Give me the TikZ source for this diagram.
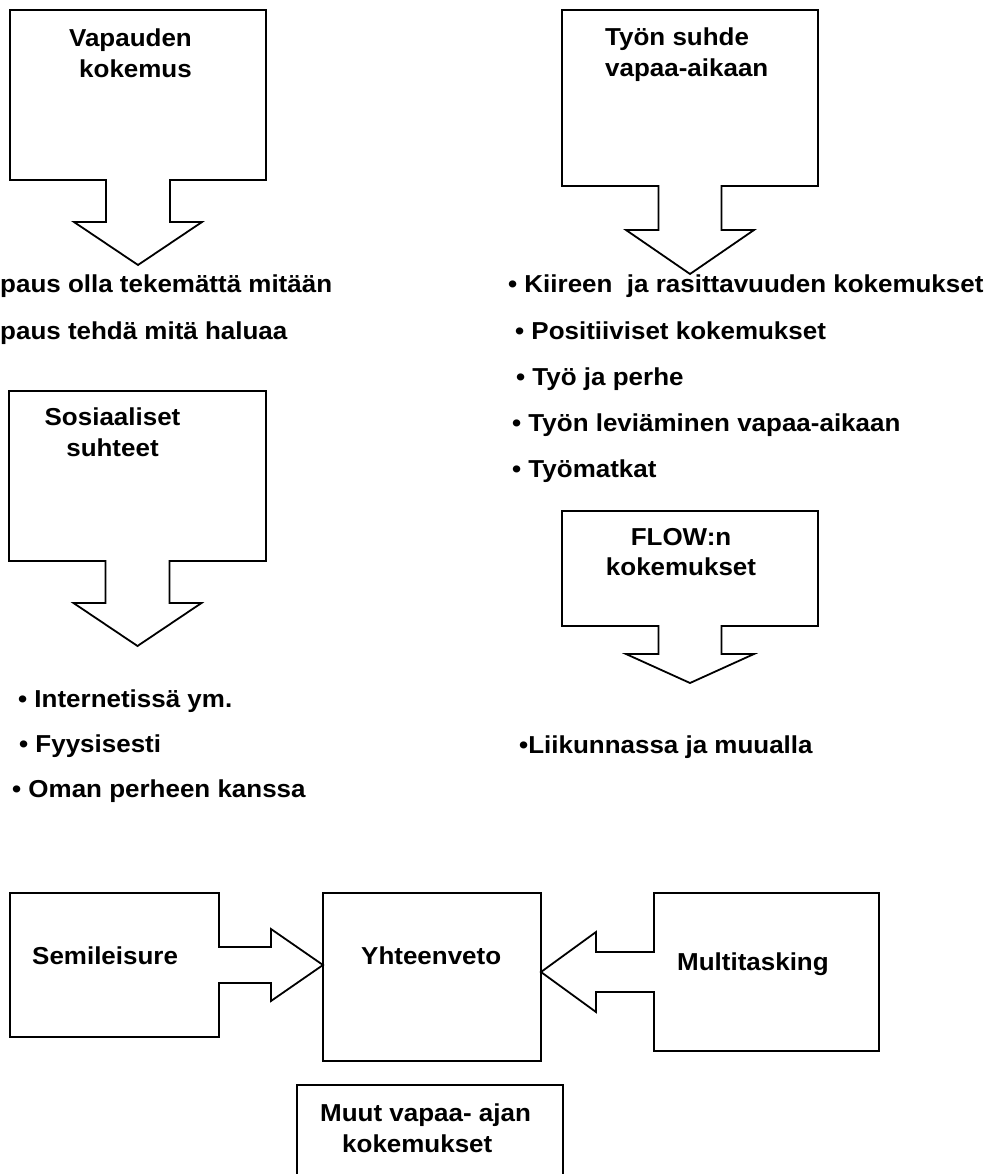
\documentclass[tikz,border=0pt]{standalone}
\usepackage{fontspec}
\setmainfont{Liberation Sans}[FakeStretch=1.06]
\usetikzlibrary{positioning}

\begin{document}
\begin{tikzpicture}[x=1pt,y=-1pt,
  font=\fontsize{24.5}{30.5}\selectfont\bfseries,
  frame/.style={line width=1.8pt,line join=miter},
  box/.style={inner sep=0pt,outer sep=0pt},
  title/.style={inner sep=0pt},
  item/.style={inner sep=0pt,anchor=base west}]

\clip (0,0) rectangle (992,1174);

% boxes
\node[box,minimum width=256pt,minimum height=170pt] (vapaus) at (138,95) {};
\node[box,minimum width=256pt,minimum height=176pt] (tyo) at (690,98) {};
\node[box,minimum width=257pt,minimum height=170pt] (sosiaal) at (137.5,476) {};
\node[box,minimum width=256pt,minimum height=115pt] (flow) at (690,568.5) {};
\node[box,minimum width=209pt,minimum height=144pt] (semi) at (114.5,965) {};
\node[box,frame,draw,minimum width=218pt,minimum height=168pt] (yht) at (432,977) {};
\node[box,minimum width=225pt,minimum height=158pt] (multi) at (766.5,972) {};
\node[box,frame,draw,minimum width=266pt,minimum height=130pt] (muut) at (430,1150) {};

% box titles
\node[title,align=right,anchor=north east] at (192,29) {Vapauden\\kokemus};
\node[title,align=left,anchor=north west] at (605,28) {Työn suhde\\vapaa-aikaan};
\node[title,align=center,anchor=north] at (112.5,408) {Sosiaaliset\\suhteet};
\node[title,align=center,anchor=north] at (681,528) {FLOW:n\\kokemukset};
\node[title,align=left,anchor=north west] at (320,1104) {Muut vapaa- ajan\\\hspace*{22pt}kokemukset};
\node[item] at (32,964) {Semileisure};
\node[item] at (361,964) {Yhteenveto};
\node[item] at (677,970) {Multitasking};

% lists
\node[item] at (0,292) {paus olla tekemättä mitään};
\node[item] at (0,339) {paus tehdä mitä haluaa};
\node[item] at (508,292) {• Kiireen\ \ ja rasittavuuden kokemukset};
\node[item] at (515,339) {• Positiiviset kokemukset};
\node[item] at (516,385) {• Työ ja perhe};
\node[item] at (512,431) {• Työn leviäminen vapaa-aikaan};
\node[item] at (512,477) {• Työmatkat};
\node[item] at (519,753) {•Liikunnassa ja muualla};
\node[item] at (18,707) {• Internetissä ym.};
\node[item] at (19,752) {• Fyysisesti};
\node[item] at (12,797) {• Oman perheen kanssa};

% down arrows
\draw[frame] (vapaus.south west) -- (vapaus.north west) -- (vapaus.north east) -- (vapaus.south east)
  -- ([xshift=32pt]vapaus.south) -- ++(0,42) -- ++(32,0) -- ++(-64,43) -- ++(-64,-43) -- ++(32,0) -- ++(0,-42) -- cycle;
\draw[frame] (tyo.south west) -- (tyo.north west) -- (tyo.north east) -- (tyo.south east)
  -- ([xshift=31.5pt]tyo.south) -- ++(0,44) -- ++(32.5,0) -- ++(-64,44) -- ++(-64,-44) -- ++(32.5,0) -- ++(0,-44) -- cycle;
\draw[frame] (sosiaal.south west) -- (sosiaal.north west) -- (sosiaal.north east) -- (sosiaal.south east)
  -- ([xshift=32pt]sosiaal.south) -- ++(0,42) -- ++(32,0) -- ++(-64,43) -- ++(-64,-43) -- ++(32,0) -- ++(0,-42) -- cycle;
\draw[frame] (flow.south west) -- (flow.north west) -- (flow.north east) -- (flow.south east)
  -- ([xshift=31.5pt]flow.south) -- ++(0,28) -- ++(32.5,0) -- ++(-64,29) -- ++(-64,-29) -- ++(32.5,0) -- ++(0,-28) -- cycle;

% side arrows
\draw[frame] (semi.north east) -- (semi.north west) -- (semi.south west) -- (semi.south east)
  -- ([yshift=-18pt]semi.east) -- ++(52,0) -- ++(0,18) -- (yht.west |- semi.east) -- ++(-52,-36) -- ++(0,18) -- ++(-52,0) -- cycle;
\draw[frame] (multi.north west) -- (multi.north east) -- (multi.south east) -- (multi.south west)
  -- ([yshift=-20pt]multi.west) -- ++(-58,0) -- ++(0,20) -- (yht.east |- multi.west) -- ++(55,-40) -- ++(0,20) -- ++(58,0) -- cycle;
\end{tikzpicture}
\end{document}
